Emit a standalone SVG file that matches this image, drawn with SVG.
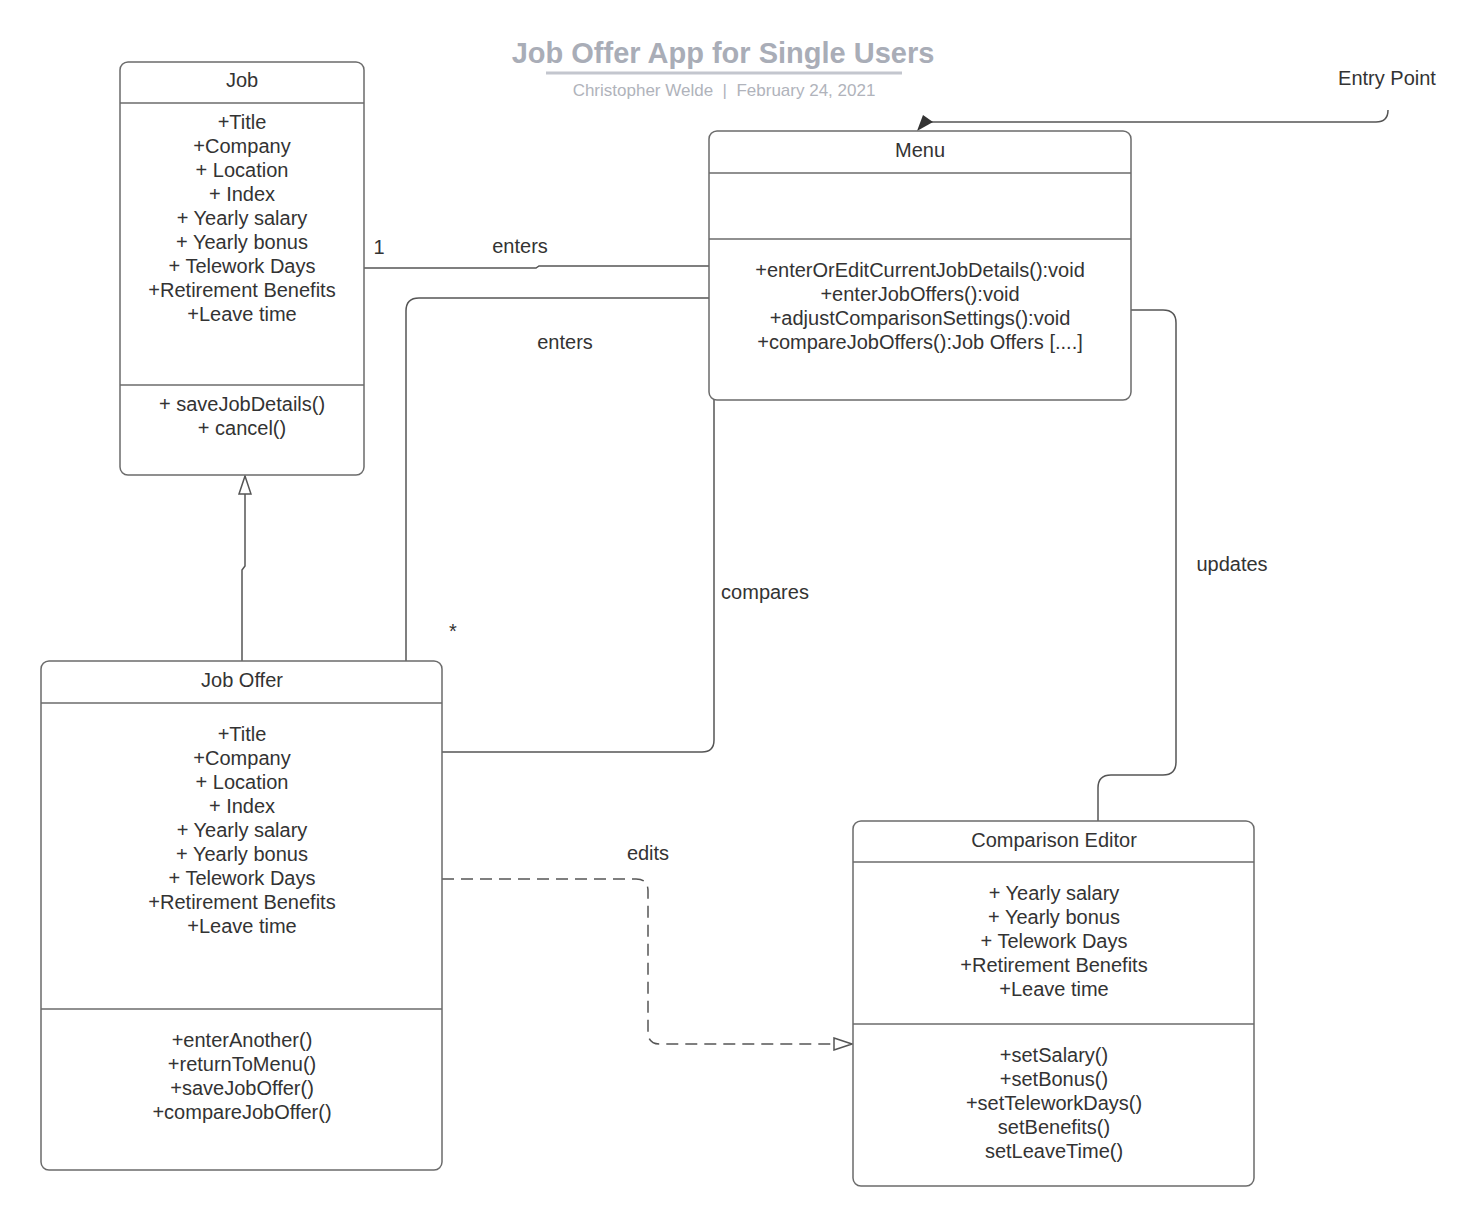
<svg xmlns="http://www.w3.org/2000/svg" width="1476" height="1228" viewBox="0 0 1476 1228">
<style>
.box{fill:#fff;stroke:#6b6b6b;stroke-width:1.5}
.div{stroke:#6b6b6b;stroke-width:1.5}
text{font-family:"Liberation Sans",Arial,sans-serif;font-size:20px;fill:#333;text-anchor:middle}
.con{fill:none;stroke:#555;stroke-width:1.5}
.dash{stroke-dasharray:12,7}
</style>
<defs>
<marker id="hollow" viewBox="0 0 20 14" refX="19" refY="7" markerWidth="20" markerHeight="14" markerUnits="userSpaceOnUse" orient="auto">
<path d="M1,1 L19,7 L1,13 Z" fill="#fff" stroke="#555" stroke-width="1.5"/>
</marker>
</defs>
<rect width="1476" height="1228" fill="#fff"/>

<g id="title">
<text x="723" y="63" style="font-size:29px;font-weight:bold;fill:#a9adb7">Job Offer App for Single Users</text>
<line x1="546" y1="73" x2="902" y2="73" stroke="#c3c6ce" stroke-width="3"/>
<text x="724" y="96" style="font-size:17px;fill:#b0b3bb;white-space:pre" xml:space="preserve">Christopher Welde  |  February 24, 2021</text>
</g>

<g id="connectors">
<path class="con" d="M364,268 L536,268 L539,266 L709,266"/>
<path class="con" d="M406,661 L406,311 Q406,298 419,298 L709,298"/>
<path class="con" d="M442,752 L702,752 Q714,752 714,740 L714,400"/>
<path class="con" d="M1131,310 L1163,310 Q1176,310 1176,323 L1176,762 Q1176,775 1163,775 L1111,775 Q1098,775 1098,788 L1098,821"/>
<path class="con" d="M242,661 L242,570 L245,566 L245,476" marker-end="url(#hollow)"/>
<path class="con dash" d="M442,879 L636,879 Q648,879 648,891 L648,1032 Q648,1044 660,1044 L852,1044" marker-end="url(#hollow)"/>
<path class="con" d="M1388,110 Q1388,122 1376,122 L930,122"/>
<path d="M917,131 L923,115 L933,122 Z" fill="#333"/>
<text x="1387" y="85">Entry Point</text>
<text x="379" y="254">1</text>
<text x="520" y="253">enters</text>
<text x="565" y="349">enters</text>
<text x="453" y="638" style="font-size:20px">*</text>
<text x="765" y="599">compares</text>
<text x="1232" y="571">updates</text>
<text x="648" y="860">edits</text>
</g>

<g id="job">
<rect class="box" x="120" y="62" width="244" height="413" rx="8"/>
<line class="div" x1="120" y1="103" x2="364" y2="103"/>
<line class="div" x1="120" y1="385" x2="364" y2="385"/>
<text x="242" y="87">Job</text>
<text x="242" y="129">+Title</text>
<text x="242" y="153">+Company</text>
<text x="242" y="177">+ Location</text>
<text x="242" y="201">+ Index</text>
<text x="242" y="225">+ Yearly salary</text>
<text x="242" y="249">+ Yearly bonus</text>
<text x="242" y="273">+ Telework Days</text>
<text x="242" y="297">+Retirement Benefits</text>
<text x="242" y="321">+Leave time</text>
<text x="242" y="411">+ saveJobDetails()</text>
<text x="242" y="435">+ cancel()</text>
</g>

<g id="menu">
<rect class="box" x="709" y="131" width="422" height="269" rx="8"/>
<line class="div" x1="709" y1="173" x2="1131" y2="173"/>
<line class="div" x1="709" y1="239" x2="1131" y2="239"/>
<text x="920" y="157">Menu</text>
<text x="920" y="277">+enterOrEditCurrentJobDetails():void</text>
<text x="920" y="301">+enterJobOffers():void</text>
<text x="920" y="325">+adjustComparisonSettings():void</text>
<text x="920" y="349">+compareJobOffers():Job Offers [....]</text>
</g>

<g id="joboffer">
<rect class="box" x="41" y="661" width="401" height="509" rx="8"/>
<line class="div" x1="41" y1="703" x2="442" y2="703"/>
<line class="div" x1="41" y1="1009" x2="442" y2="1009"/>
<text x="242" y="687">Job Offer</text>
<text x="242" y="741">+Title</text>
<text x="242" y="765">+Company</text>
<text x="242" y="789">+ Location</text>
<text x="242" y="813">+ Index</text>
<text x="242" y="837">+ Yearly salary</text>
<text x="242" y="861">+ Yearly bonus</text>
<text x="242" y="885">+ Telework Days</text>
<text x="242" y="909">+Retirement Benefits</text>
<text x="242" y="933">+Leave time</text>
<text x="242" y="1047">+enterAnother()</text>
<text x="242" y="1071">+returnToMenu()</text>
<text x="242" y="1095">+saveJobOffer()</text>
<text x="242" y="1119">+compareJobOffer()</text>
</g>

<g id="comparisoneditor">
<rect class="box" x="853" y="821" width="401" height="365" rx="8"/>
<line class="div" x1="853" y1="862" x2="1254" y2="862"/>
<line class="div" x1="853" y1="1024" x2="1254" y2="1024"/>
<text x="1054" y="847">Comparison Editor</text>
<text x="1054" y="900">+ Yearly salary</text>
<text x="1054" y="924">+ Yearly bonus</text>
<text x="1054" y="948">+ Telework Days</text>
<text x="1054" y="972">+Retirement Benefits</text>
<text x="1054" y="996">+Leave time</text>
<text x="1054" y="1062">+setSalary()</text>
<text x="1054" y="1086">+setBonus()</text>
<text x="1054" y="1110">+setTeleworkDays()</text>
<text x="1054" y="1134">setBenefits()</text>
<text x="1054" y="1158">setLeaveTime()</text>
</g>
</svg>
